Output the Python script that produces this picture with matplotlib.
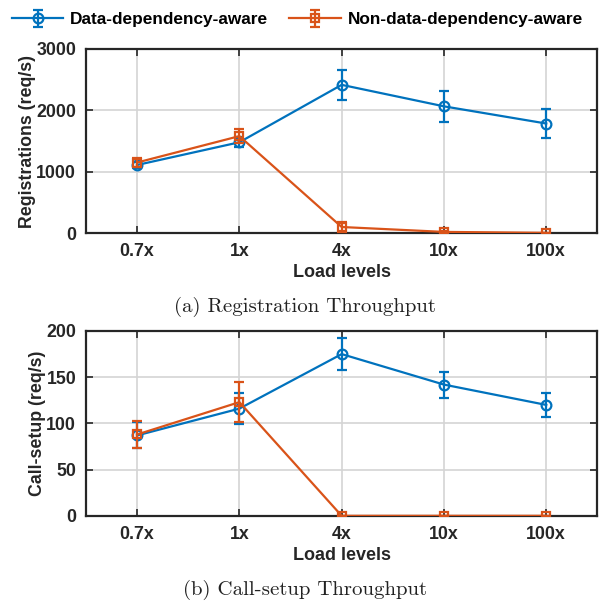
import numpy as np
import matplotlib
matplotlib.use("Agg")
import matplotlib.pyplot as plt

# load levels on the x axis
levels = ["0.7x", "1x", "4x", "10x", "100x"]

# registration throughput (req/s), mean and error
reg_aware = [1110, 1480, 2415, 2065, 1785]
reg_aware_err = [50, 80, 245, 250, 235]
reg_naive = [1150, 1580, 100, 20, 5]
reg_naive_err = [80, 120, 80, 15, 5]

# call-setup throughput (req/s), mean and error
call_aware = [87, 116, 175, 142, 120]
call_aware_err = [14, 17, 17, 14, 13]
call_naive = [88, 123, 0, 0, 0]
call_naive_err = [15, 22, 0, 0, 0]

BLUE = "#0072BD"
ORANGE = "#D95319"
AX_COL = "#262626"

plt.rcParams["font.family"] = ["Liberation Sans", "DejaVu Sans"]
plt.rcParams["font.weight"] = "bold"

fig = plt.figure(figsize=(6.01, 6.04), dpi=100)
ax1 = fig.add_axes([0.143, 0.614, 0.851, 0.305])
ax2 = fig.add_axes([0.143, 0.146, 0.851, 0.306])

x = np.arange(len(levels))


def draw(ax, aware, aware_err, naive, naive_err, ylim, yticks, ylabel):
    h1 = ax.errorbar(x, aware, yerr=aware_err, color=BLUE, lw=1.6,
                     marker="o", ms=7, mfc="none", mew=1.6,
                     capsize=3.5, capthick=1.6, elinewidth=1.6, zorder=3)
    h2 = ax.errorbar(x, naive, yerr=naive_err, color=ORANGE, lw=1.6,
                     marker="s", ms=5.5, mfc="none", mew=1.6,
                     capsize=3.5, capthick=1.6, elinewidth=1.6, zorder=4)
    ax.set_xlim(-0.5, len(levels) - 0.5)
    ax.set_ylim(*ylim)
    ax.set_yticks(yticks)
    ax.set_xticks(x)
    ax.set_xticklabels(levels)
    ax.grid(True, color="#d4d4d4", lw=1.2)
    ax.set_axisbelow(True)
    for s in ax.spines.values():
        s.set_color(AX_COL)
        s.set_linewidth(1.6)
    ax.tick_params(direction="in", top=True, right=True, length=5,
                   width=1.2, color=AX_COL, labelsize=12.8,
                   labelcolor=AX_COL, pad=7)
    ax.set_ylabel(ylabel, fontsize=12.8, fontweight="bold", color=AX_COL,
                  labelpad=0)
    ax.set_xlabel("Load levels", fontsize=13, fontweight="bold",
                  color=AX_COL, labelpad=3)
    return h1, h2


h1, h2 = draw(ax1, reg_aware, reg_aware_err, reg_naive, reg_naive_err,
              (0, 3000), [0, 1000, 2000, 3000], "Registrations (req/s)")
draw(ax2, call_aware, call_aware_err, call_naive, call_naive_err,
     (0, 200), [0, 50, 100, 150, 200], "Call-setup (req/s)")

fig.legend([h1, h2], ["Data-dependency-aware", "Non-data-dependency-aware"],
           loc="center left", bbox_to_anchor=(0.008, 0.967), ncol=2,
           frameon=False, fontsize=12.4, handlelength=3.0, columnspacing=1.2,
           handletextpad=0.4, borderaxespad=0, labelcolor="black")

fig.text(0.508, 0.492, "(a) Registration Throughput", ha="center",
         va="center", fontsize=15, family="cmr10", fontweight="normal",
         color="#222222")
fig.text(0.508, 0.024, "(b) Call-setup Throughput", ha="center",
         va="center", fontsize=15, family="cmr10", fontweight="normal",
         color="#222222")

fig.savefig("out.png", dpi=100)
